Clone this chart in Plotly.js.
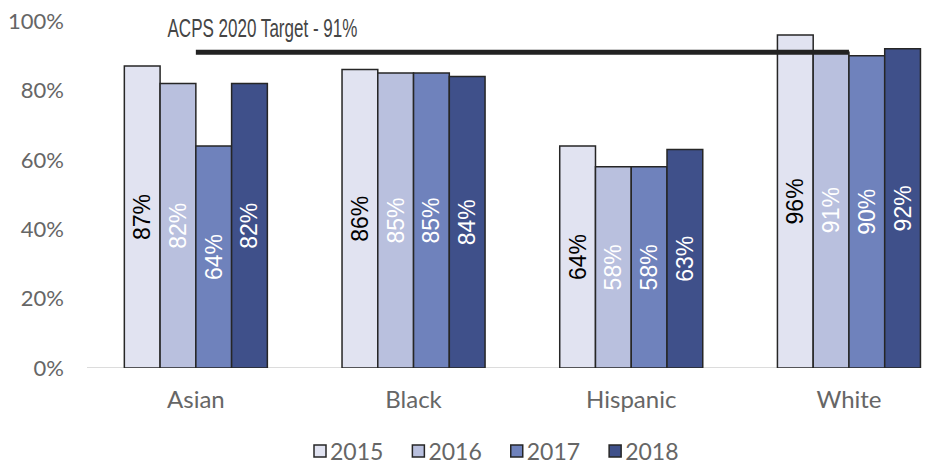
<!DOCTYPE html>
<html>
<head>
<meta charset="utf-8">
<script src="https://cdn.plot.ly/plotly-3.0.1.min.js"></script>
<style>html,body{margin:0;padding:0;background:#fff;}#chart{width:948px;height:464px;}</style>
</head>
<body>
<div id="chart"></div>
<script>
const categories = ["Asian", "Black", "Hispanic", "White"];
const years = ["2015", "2016", "2017", "2018"];
const v2015 = [0.87, 0.86, 0.64, 0.96];
const v2016 = [0.82, 0.85, 0.58, 0.91];
const v2017 = [0.64, 0.85, 0.58, 0.90];
const v2018 = [0.82, 0.84, 0.63, 0.92];
const targetValue = 0.91;
const targetLabel = "ACPS 2020 Target - 91%";
const yTicks = [0, 0.2, 0.4, 0.6, 0.8, 1.0];

const series = [v2015, v2016, v2017, v2018];
const fills = ["#E1E3F1", "#B9C0DE", "#6F82BC", "#3F508A"];
const textColors = ["#000000", "#ffffff", "#ffffff", "#ffffff"];

const traces = series.map((vals, i) => ({
  type: "bar",
  name: years[i],
  x: categories,
  y: vals,
  marker: {color: fills[i], line: {color: "#262626", width: 1.5}},
  texttemplate: "%{y:.0%}",
  textposition: "inside",
  insidetextanchor: "middle",
  textangle: -90,
  textfont: {family: "Liberation Sans, Arial, sans-serif", size: 23, color: textColors[i]},
  constraintext: "none",
  hoverinfo: "skip"
}));

traces.push({
  type: "scatter",
  mode: "lines",
  x: [categories[0], categories[categories.length - 1]],
  y: [targetValue, targetValue],
  line: {color: "#222222", width: 5},
  showlegend: false,
  hoverinfo: "skip"
});

const layout = {
  width: 948,
  height: 464,
  margin: {l: 87, r: 0, t: 21, b: 96},
  paper_bgcolor: "#ffffff",
  plot_bgcolor: "#ffffff",
  barmode: "group",
  bargap: 0.343,
  bargroupgap: 0,
  font: {family: "Lato, sans-serif", size: 20, color: "#666666"},
  xaxis: {
    type: "category",
    range: [-0.5, 3.455],
    showgrid: false,
    showline: false,
    zeroline: false,
    ticks: "",
    ticklabelstandoff: 15,
    tickfont: {family: "Lato, sans-serif", size: 24, color: "#666666"}
  },
  yaxis: {
    range: [0, 1],
    tickvals: yTicks,
    tickformat: ".0%",
    showgrid: false,
    zeroline: false,
    showline: false,
    ticks: "",
    ticklabelstandoff: 22,
    tickfont: {family: "Lato, sans-serif", size: 22, color: "#666666"}
  },
  shapes: [{
    type: "line", xref: "x", yref: "y",
    x0: -0.5, x1: 3.33, y0: 0, y1: 0,
    line: {color: "#D0D0D0", width: 1.5},
    layer: "below"
  }],
  annotations: [{
    xref: "paper", yref: "paper",
    x: (262 - 87) / 861, y: 1 + (21 - 28) / 347,
    xanchor: "center", yanchor: "middle",
    text: targetLabel,
    showarrow: false,
    font: {family: "Liberation Sans, Arial, sans-serif", size: 25, color: "#454545"}
  }],
  legend: {
    orientation: "h",
    xref: "container", yref: "container",
    x: 497 / 948, xanchor: "center",
    y: (464 - 451) / 464, yanchor: "middle",
    font: {family: "Lato, sans-serif", size: 23, color: "#666666"},
    itemwidth: 30,
    tracegroupgap: 0,
    traceorder: "normal"
  },
  showlegend: true
};

Plotly.newPlot("chart", traces, layout, {displayModeBar: false, staticPlot: true}).then(gd => {
  // condense the target label to mimic the narrow font of the original
  const t = gd.querySelector(".annotation-text");
  if (t) {
    const bb = t.getBBox();
    const s = 190 / bb.width;
    const cx = bb.x + bb.width / 2;
    t.setAttribute("transform", `translate(${cx},0) scale(${s},1) translate(${-cx},0)`);
  }
  // tighten the gap between legend swatches and labels
  gd.querySelectorAll(".legendtext").forEach(el => el.setAttribute("x", 30));
});
</script>
</body>
</html>
